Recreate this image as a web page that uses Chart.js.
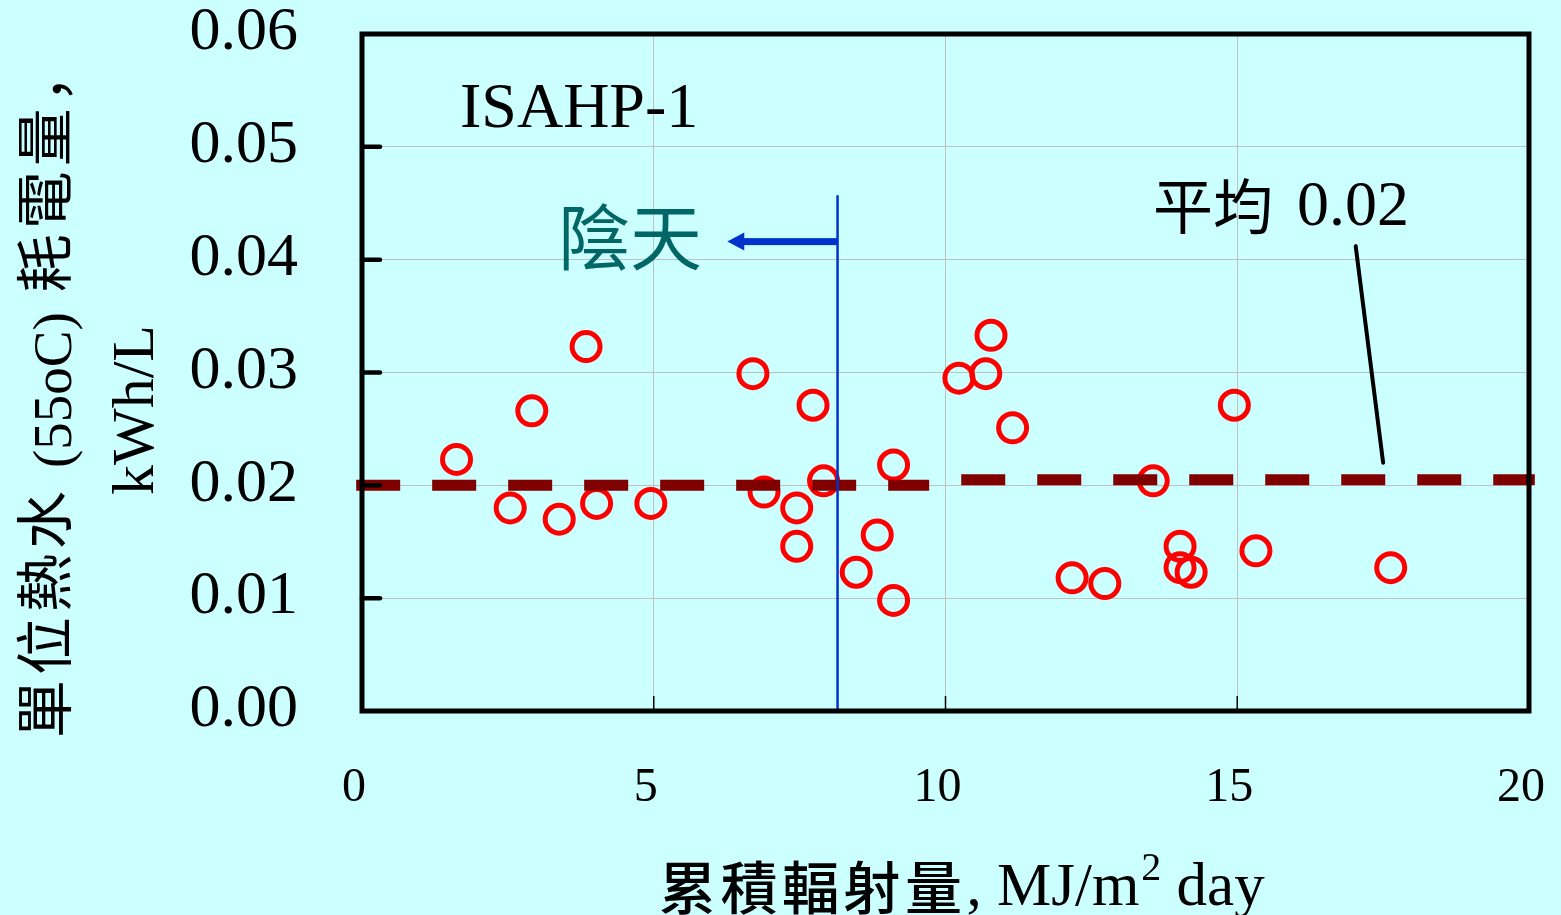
<!DOCTYPE html>
<html>
<head>
<meta charset="utf-8">
<title>ISAHP-1 單位熱水耗電量</title>
<script src="https://cdn.jsdelivr.net/npm/chart.js@4/dist/chart.umd.min.js"></script>
<style>
  html, body { margin: 0; padding: 0; background: #ccffff; overflow: hidden; }
  canvas { display: block; }
</style>
</head>
<body>
<canvas id="chart" width="1561" height="915"></canvas>
<script>
// Daily accumulated solar radiation (MJ/m² day) and electricity use per litre of 55°C hot water (kWh/L)
const radiation = [1.62, 2.54, 2.91, 3.38, 3.84, 4.02, 4.95, 6.70, 6.89, 7.45, 7.45, 7.73, 7.91, 8.47, 8.83,
                   9.11, 9.11, 10.23, 10.69, 10.78, 11.15, 12.17, 12.73, 13.56, 14.02, 14.02, 14.21, 14.95, 15.32, 17.63];
const consumption = [0.0223, 0.0180, 0.0266, 0.0170, 0.0323, 0.0184, 0.0184, 0.0299, 0.0194, 0.0180, 0.0146, 0.0271, 0.0204, 0.0123, 0.0156,
                     0.0218, 0.0098, 0.0295, 0.0299, 0.0333, 0.0251, 0.0118, 0.0113, 0.0204, 0.0146, 0.0127, 0.0123, 0.0271, 0.0142, 0.0127];

// Average level (平均 0.02), drawn as two dashed runs
const avgLeftX = [-0.1, 9.72];
const avgLeftY = [0.02, 0.02];
const avgRightX = [10.27, 20.1];
const avgRightY = [0.0205, 0.0205];

// Cloudy-day boundary (陰天) and leader line of the average label
const cloudyX = [8.15, 8.15];
const cloudyY = [0, 0.0457];
const leaderX = [17.03, 17.50];
const leaderY = [0.0412, 0.0220];

// Axis ticks
const xTicks = [0, 5, 10, 15, 20];
const yTicks = [0, 0.01, 0.02, 0.03, 0.04, 0.05, 0.06];

const SERIF = '"Liberation Serif", "Times New Roman", serif';
const CJK = '"Noto Sans CJK TC", "Noto Sans CJK SC", sans-serif';
const CJK_SC = '"Noto Sans CJK SC", "Noto Sans CJK TC", sans-serif';

const pts = (xs, ys) => xs.map((v, i) => ({ x: v, y: ys[i] }));

// draw characters one by one with a fixed advance
function drawChars(ctx, text, x, y, advance) {
  [...text].forEach((ch, i) => ctx.fillText(ch, x + i * advance, y));
  return x + [...text].length * advance;
}

// keep tick-label overhang from pushing the plot area inward
function noOverhang(s) {
  s.paddingTop = 0; s.paddingBottom = 0; s.paddingLeft = 0; s.paddingRight = 0;
}

const decor = {
  id: 'decor',
  beforeDraw(chart) {
    const { ctx, width, height } = chart;
    ctx.save();
    ctx.fillStyle = '#ccffff';
    ctx.fillRect(0, 0, width, height);
    ctx.restore();
  },
  afterDatasetsDraw(chart) {
    const { ctx, chartArea: a, scales: { x, y } } = chart;
    ctx.save();
    // inner tick marks
    ctx.strokeStyle = '#000';
    ctx.lineCap = 'round';
    ctx.lineWidth = 4.5;
    yTicks.slice(1, -1).forEach(v => {
      const py = y.getPixelForValue(v);
      ctx.beginPath(); ctx.moveTo(a.left, py); ctx.lineTo(a.left + 18, py); ctx.stroke();
    });
    ctx.lineCap = 'butt';
    ctx.lineWidth = 1.5;
    xTicks.slice(1, -1).forEach(v => {
      const px = x.getPixelForValue(v);
      ctx.beginPath(); ctx.moveTo(px, a.bottom); ctx.lineTo(px, a.bottom - 15); ctx.stroke();
    });
    // plot frame
    ctx.lineWidth = 5;
    ctx.lineJoin = 'miter';
    ctx.strokeRect(a.left, a.top, a.right - a.left, a.bottom - a.top);

    // arrow pointing to the cloudy side
    const ay = y.getPixelForValue(0.0416);
    const x0 = x.getPixelForValue(cloudyX[0]);
    const tip = x.getPixelForValue(6.26);
    ctx.fillStyle = '#0033cc';
    ctx.fillRect(tip + 15, ay - 3.5, x0 - tip - 15, 7);
    ctx.beginPath();
    ctx.moveTo(tip, ay);
    ctx.lineTo(tip + 17, ay - 9);
    ctx.lineTo(tip + 17, ay + 9);
    ctx.closePath();
    ctx.fill();
    ctx.restore();
  },
  afterDraw(chart) {
    const { ctx } = chart;
    ctx.save();
    ctx.textAlign = 'left';
    ctx.textBaseline = 'alphabetic';

    // series label
    ctx.fillStyle = '#000';
    ctx.font = `64px ${SERIF}`;
    ctx.fillText('ISAHP-1', 460, 127);

    // cloudy label
    ctx.fillStyle = '#006666';
    ctx.font = `72px ${CJK}`;
    ctx.fillText('陰天', 558, 264);

    // average label
    ctx.fillStyle = '#000';
    ctx.font = `60px ${CJK}`;
    ctx.fillText('平均', 1153, 229);
    ctx.font = `64px ${SERIF}`;
    ctx.fillText('0.02', 1297, 225);

    // x-axis title
    ctx.font = `500 57px ${CJK}`;
    let cx = drawChars(ctx, '累積輻射量', 659, 909, 61.5);
    ctx.font = `61px ${SERIF}`;
    ctx.fillText(', MJ/m', cx, 905);
    cx += ctx.measureText(', MJ/m').width;
    ctx.font = `40px ${SERIF}`;
    ctx.fillText('2', cx + 2, 880);
    cx += ctx.measureText('2').width + 2;
    ctx.font = `61px ${SERIF}`;
    ctx.fillText(' day', cx, 905);

    // y-axis title, two rotated lines
    ctx.translate(0, 738);
    ctx.rotate(-Math.PI / 2);
    ctx.font = `58px ${CJK}`;
    let lx = drawChars(ctx, '單位熱水', 0, 66, 63);
    ctx.font = `55px ${SERIF}`;
    ctx.fillText('(55oC)', lx + 18, 71);
    lx = lx + 18 + ctx.measureText('(55oC)').width + 20;
    ctx.font = `58px ${CJK}`;
    lx = drawChars(ctx, '耗電量', lx, 66, 63);
    ctx.font = `58px ${CJK_SC}`;
    ctx.fillText('，', lx, 66);

    ctx.font = `60px ${SERIF}`;
    ctx.textAlign = 'center';
    ctx.fillText('kWh/L', 738 - 410, 153);
    ctx.restore();
  }
};

new Chart(document.getElementById('chart'), {
  type: 'scatter',
  data: {
    datasets: [
      {
        label: '陰天界線',
        data: pts(cloudyX, cloudyY),
        showLine: true,
        borderColor: '#0033cc',
        borderWidth: 2.5,
        pointRadius: 0,
        clip: false,
        order: 0
      },
      {
        label: '平均',
        data: pts(avgLeftX, avgLeftY),
        showLine: true,
        borderColor: '#800000',
        borderWidth: 11,
        borderDash: [44, 32],
        borderCapStyle: 'butt',
        pointRadius: 0,
        clip: false,
        order: 1
      },
      {
        label: '平均',
        data: pts(avgRightX, avgRightY),
        showLine: true,
        borderColor: '#800000',
        borderWidth: 11,
        borderDash: [44, 32],
        borderCapStyle: 'butt',
        pointRadius: 0,
        clip: false,
        order: 1
      },
      {
        label: 'leader',
        data: pts(leaderX, leaderY),
        showLine: true,
        borderColor: '#000000',
        borderWidth: 4,
        borderCapStyle: 'round',
        pointRadius: 0,
        clip: false,
        order: 1
      },
      {
        label: 'ISAHP-1',
        data: pts(radiation, consumption),
        pointStyle: 'circle',
        pointRadius: 14,
        pointBorderWidth: 5,
        borderColor: '#ff0000',
        pointBorderColor: '#ff0000',
        backgroundColor: 'rgba(0,0,0,0)',
        pointBackgroundColor: 'rgba(0,0,0,0)',
        showLine: false,
        order: 2
      }
    ]
  },
  options: {
    responsive: false,
    animation: false,
    devicePixelRatio: 1,
    events: [],
    layout: { padding: { left: 0, top: 34, right: 32, bottom: 0 } },
    plugins: { legend: { display: false }, tooltip: { enabled: false } },
    scales: {
      x: {
        type: 'linear',
        min: 0, max: 20,
        afterFit(s) { s.height = 204; noOverhang(s); },
        afterBuildTicks(s) { s.ticks = xTicks.map(v => ({ value: v })); },
        grid: { color: '#c0c0c0', lineWidth: 1, drawTicks: false },
        border: { display: false },
        ticks: {
          color: '#000',
          font: { family: SERIF, size: 48, lineHeight: 1 },
          padding: 53,
          labelOffset: -8,
          maxRotation: 0,
          autoSkip: false,
          callback: v => String(v)
        }
      },
      y: {
        type: 'linear',
        min: 0, max: 0.06,
        afterFit(s) { s.width = 362; noOverhang(s); },
        afterBuildTicks(s) { s.ticks = yTicks.map(v => ({ value: v })); },
        grid: { color: '#c0c0c0', lineWidth: 1, drawTicks: false },
        border: { display: false },
        ticks: {
          color: '#000',
          font: { family: SERIF, size: 62, lineHeight: 1 },
          padding: 64,
          labelOffset: -1,
          autoSkip: false,
          callback: v => v.toFixed(2)
        }
      }
    }
  },
  plugins: [decor]
});
</script>
</body>
</html>
